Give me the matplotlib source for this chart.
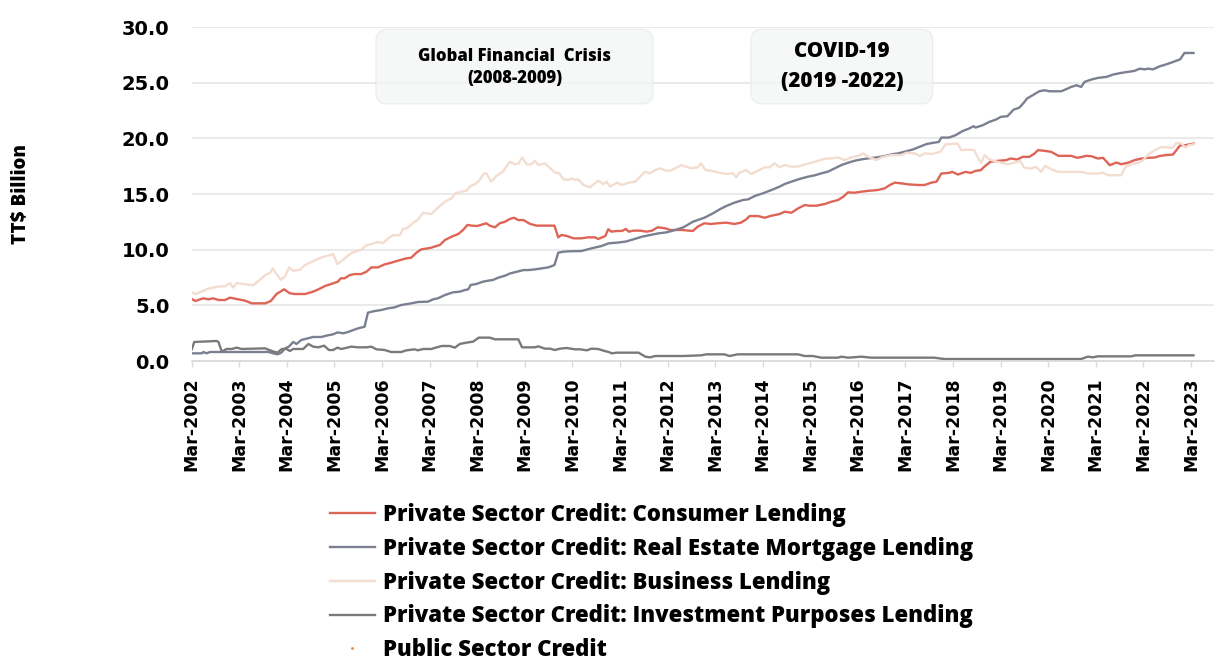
import matplotlib
matplotlib.use("Agg")
import matplotlib.pyplot as plt
from matplotlib.lines import Line2D
from matplotlib.patches import FancyBboxPatch

# credit outstanding, TT$ billion; dates as decimal years (Mar-2002 = 2002.17)
consumer_t = [2002.17, 2002.24, 2002.41, 2002.52, 2002.62, 2002.73, 2002.87, 2002.97, 2003.15, 2003.29,
              2003.43, 2003.71, 2003.83, 2003.95, 2004.11, 2004.23, 2004.34, 2004.55, 2004.72, 2004.83,
              2004.97, 2005.10, 2005.24, 2005.30, 2005.38, 2005.49, 2005.59, 2005.73, 2005.84, 2005.94,
              2006.08, 2006.22, 2006.36, 2006.50, 2006.68, 2006.78, 2006.89, 2006.99, 2007.13, 2007.20,
              2007.38, 2007.49, 2007.63, 2007.77, 2007.87, 2007.96, 2008.05, 2008.17, 2008.29, 2008.36,
              2008.43, 2008.54, 2008.64, 2008.75, 2008.85, 2008.94, 2009.03, 2009.14, 2009.28, 2009.42,
              2009.59, 2009.79, 2009.87, 2009.94, 2010.05, 2010.19, 2010.36, 2010.50, 2010.64, 2010.71,
              2010.86, 2010.92, 2010.99, 2011.10, 2011.21, 2011.29, 2011.35, 2011.45, 2011.59, 2011.73,
              2011.84, 2011.96, 2012.12, 2012.22, 2012.47, 2012.70, 2012.80, 2012.94, 2013.08, 2013.22,
              2013.40, 2013.57, 2013.71, 2013.82, 2013.89, 2014.07, 2014.21, 2014.35, 2014.52, 2014.63,
              2014.77, 2014.91, 2015.05, 2015.15, 2015.29, 2015.47, 2015.61, 2015.75, 2015.86, 2015.96,
              2016.10, 2016.24, 2016.42, 2016.59, 2016.73, 2016.84, 2016.94, 2017.08, 2017.22, 2017.43,
              2017.57, 2017.71, 2017.82, 2017.92, 2018.08, 2018.15, 2018.27, 2018.43, 2018.54, 2018.64,
              2018.75, 2018.82, 2018.95, 2019.10, 2019.28, 2019.38, 2019.52, 2019.63, 2019.77, 2019.88,
              2019.95, 2020.09, 2020.23, 2020.38, 2020.65, 2020.78, 2020.97, 2021.07, 2021.21, 2021.32,
              2021.46, 2021.60, 2021.70, 2021.84, 2021.98, 2022.13, 2022.27, 2022.41, 2022.49, 2022.62,
              2022.79, 2022.94, 2023.04, 2023.22]
consumer_v = [5.57, 5.39, 5.63, 5.54, 5.63, 5.48, 5.48, 5.69, 5.54, 5.42,
              5.18, 5.18, 5.39, 6.02, 6.44, 6.08, 6.02, 6.02, 6.23, 6.44,
              6.74, 6.92, 7.13, 7.43, 7.43, 7.72, 7.81, 7.81, 8.02, 8.41,
              8.41, 8.68, 8.83, 9.01, 9.22, 9.28, 9.73, 10.03, 10.12, 10.18,
              10.42, 10.87, 11.17, 11.41, 11.77, 12.22, 12.16, 12.13, 12.28, 12.37,
              12.16, 12.01, 12.37, 12.51, 12.75, 12.87, 12.66, 12.66, 12.31, 12.16,
              12.16, 12.16, 11.11, 11.32, 11.23, 11.02, 11.02, 11.11, 11.11, 10.96,
              11.23, 11.83, 11.62, 11.68, 11.68, 11.86, 11.62, 11.71, 11.71, 11.62,
              11.71, 12.01, 11.92, 11.77, 11.77, 11.68, 12.07, 12.37, 12.31, 12.37,
              12.43, 12.31, 12.43, 12.72, 13.02, 13.02, 12.87, 13.05, 13.20, 13.41,
              13.32, 13.71, 14.01, 13.95, 13.95, 14.10, 14.31, 14.46, 14.76, 15.15,
              15.12, 15.21, 15.30, 15.36, 15.51, 15.81, 16.02, 15.96, 15.87, 15.81,
              15.81, 16.02, 16.11, 16.84, 16.90, 16.99, 16.75, 16.99, 16.90, 17.08,
              17.14, 17.44, 17.89, 17.98, 18.04, 18.19, 18.10, 18.34, 18.34, 18.64,
              18.94, 18.88, 18.79, 18.43, 18.43, 18.25, 18.43, 18.40, 18.19, 18.25,
              17.59, 17.83, 17.68, 17.80, 18.04, 18.19, 18.25, 18.28, 18.40, 18.49,
              18.55, 19.38, 19.38, 19.53]

mortgage_t = [2002.17, 2002.38, 2002.41, 2002.48, 2002.55, 2003.78, 2003.88, 2003.97, 2004.05, 2004.13,
              2004.21, 2004.30, 2004.37, 2004.47, 2004.58, 2004.72, 2004.89, 2005.03, 2005.14, 2005.23,
              2005.35, 2005.45, 2005.56, 2005.66, 2005.80, 2005.87, 2006.01, 2006.15, 2006.29, 2006.43,
              2006.57, 2006.78, 2006.92, 2007.13, 2007.24, 2007.34, 2007.49, 2007.66, 2007.80, 2007.91,
              2007.98, 2008.03, 2008.15, 2008.29, 2008.40, 2008.50, 2008.61, 2008.75, 2008.86, 2009.00,
              2009.14, 2009.24, 2009.38, 2009.52, 2009.66, 2009.79, 2009.87, 2009.98, 2010.08, 2010.36,
              2010.57, 2010.78, 2010.93, 2011.10, 2011.28, 2011.45, 2011.63, 2011.77, 2011.98, 2012.15,
              2012.33, 2012.50, 2012.70, 2012.94, 2013.12, 2013.26, 2013.40, 2013.57, 2013.75, 2013.86,
              2014.00, 2014.17, 2014.35, 2014.52, 2014.63, 2014.77, 2014.94, 2015.12, 2015.26, 2015.40,
              2015.54, 2015.68, 2015.82, 2015.96, 2016.10, 2016.24, 2016.38, 2016.56, 2016.73, 2016.87,
              2017.01, 2017.15, 2017.33, 2017.47, 2017.61, 2017.75, 2017.87, 2017.92, 2018.08, 2018.22,
              2018.36, 2018.50, 2018.60, 2018.64, 2018.79, 2018.93, 2019.07, 2019.17, 2019.31, 2019.44,
              2019.56, 2019.65, 2019.72, 2019.84, 2019.98, 2020.09, 2020.19, 2020.44, 2020.54, 2020.65,
              2020.76, 2020.86, 2020.93, 2021.07, 2021.21, 2021.39, 2021.53, 2021.70, 2021.84, 2021.98,
              2022.09, 2022.20, 2022.27, 2022.37, 2022.51, 2022.65, 2022.79, 2022.94, 2023.03, 2023.22]
mortgage_v = [0.69, 0.69, 0.81, 0.69, 0.81, 0.81, 0.69, 0.60, 0.75, 1.14,
              1.29, 1.71, 1.53, 1.89, 2.01, 2.16, 2.16, 2.31, 2.40, 2.57,
              2.49, 2.60, 2.78, 2.93, 3.08, 4.34, 4.49, 4.58, 4.73, 4.82,
              5.03, 5.18, 5.30, 5.33, 5.54, 5.63, 5.93, 6.17, 6.23, 6.38,
              6.44, 6.83, 6.92, 7.13, 7.22, 7.28, 7.49, 7.66, 7.87, 8.02,
              8.17, 8.17, 8.23, 8.32, 8.41, 8.62, 9.73, 9.82, 9.85, 9.88,
              10.12, 10.33, 10.57, 10.63, 10.72, 10.93, 11.17, 11.29, 11.47, 11.56,
              11.77, 12.01, 12.51, 12.87, 13.26, 13.62, 13.92, 14.22, 14.46, 14.52,
              14.82, 15.06, 15.36, 15.66, 15.90, 16.11, 16.35, 16.56, 16.68, 16.86,
              17.01, 17.31, 17.60, 17.81, 17.99, 18.11, 18.20, 18.29, 18.41, 18.56,
              18.65, 18.80, 19.01, 19.25, 19.49, 19.60, 19.68, 20.07, 20.07, 20.28,
              20.64, 20.88, 21.09, 20.97, 21.18, 21.48, 21.69, 21.93, 21.99, 22.58,
              22.76, 23.18, 23.57, 23.87, 24.23, 24.32, 24.23, 24.23, 24.41, 24.62,
              24.77, 24.62, 25.07, 25.28, 25.43, 25.52, 25.73, 25.88, 25.97, 26.06,
              26.26, 26.20, 26.26, 26.20, 26.47, 26.65, 26.86, 27.10, 27.67, 27.67]

business_t = [2002.17, 2002.24, 2002.52, 2002.73, 2002.87, 2002.97, 2003.04, 2003.11, 2003.29, 2003.46,
              2003.60, 2003.74, 2003.81, 2003.87, 2003.95, 2004.04, 2004.13, 2004.21, 2004.30, 2004.44,
              2004.54, 2004.68, 2004.89, 2005.14, 2005.23, 2005.35, 2005.52, 2005.73, 2005.84, 2005.94,
              2006.08, 2006.19, 2006.29, 2006.40, 2006.54, 2006.61, 2006.68, 2006.82, 2006.92, 2007.03,
              2007.20, 2007.38, 2007.52, 2007.63, 2007.71, 2007.84, 2007.94, 2008.03, 2008.15, 2008.22,
              2008.31, 2008.36, 2008.46, 2008.57, 2008.71, 2008.85, 2008.96, 2009.04, 2009.11, 2009.21,
              2009.30, 2009.38, 2009.45, 2009.59, 2009.70, 2009.80, 2009.89, 2009.98, 2010.08, 2010.15,
              2010.22, 2010.29, 2010.40, 2010.54, 2010.71, 2010.82, 2010.89, 2010.96, 2011.10, 2011.21,
              2011.35, 2011.49, 2011.59, 2011.70, 2011.80, 2011.91, 2012.01, 2012.12, 2012.22, 2012.33,
              2012.45, 2012.66, 2012.80, 2012.87, 2012.96, 2013.08, 2013.22, 2013.40, 2013.54, 2013.61,
              2013.68, 2013.82, 2013.92, 2014.03, 2014.21, 2014.31, 2014.42, 2014.52, 2014.63, 2014.77,
              2014.91, 2015.08, 2015.22, 2015.33, 2015.47, 2015.61, 2015.75, 2015.89, 2016.03, 2016.17,
              2016.28, 2016.38, 2016.56, 2016.66, 2016.87, 2017.08, 2017.19, 2017.36, 2017.47, 2017.57,
              2017.71, 2017.90, 2018.01, 2018.26, 2018.34, 2018.47, 2018.61, 2018.68, 2018.76, 2018.83,
              2018.93, 2019.10, 2019.31, 2019.45, 2019.58, 2019.66, 2019.80, 2019.91, 2020.02, 2020.10,
              2020.23, 2020.37, 2020.86, 2021.00, 2021.21, 2021.32, 2021.42, 2021.70, 2021.79, 2021.92,
              2022.06, 2022.16, 2022.27, 2022.41, 2022.55, 2022.69, 2022.79, 2022.86, 2022.97, 2023.05,
              2023.12, 2023.22]
business_v = [6.2, 6.0, 6.5, 6.7, 6.7, 7.0, 6.6, 7.0, 6.9, 6.8,
              7.3, 7.8, 7.9, 8.3, 7.8, 7.3, 7.6, 8.4, 8.1, 8.2,
              8.6, 8.9, 9.3, 9.6, 8.7, 9.1, 9.7, 10.0, 10.4, 10.5,
              10.7, 10.6, 11.0, 11.3, 11.3, 11.9, 11.9, 12.4, 12.7, 13.3,
              13.2, 13.92, 14.40, 14.61, 15.06, 15.21, 15.30, 15.72, 15.96, 16.26,
              16.86, 16.86, 16.11, 16.62, 17.01, 17.90, 17.66, 17.75, 18.29, 17.66,
              17.66, 17.99, 17.60, 17.75, 17.31, 16.92, 16.86, 16.32, 16.26, 16.41,
              16.26, 16.32, 15.81, 15.60, 16.20, 15.90, 16.11, 15.66, 16.02, 15.81,
              16.02, 16.11, 16.56, 17.01, 16.86, 17.16, 17.31, 17.10, 17.10, 17.31,
              17.60, 17.31, 17.40, 17.75, 17.16, 17.10, 16.95, 16.80, 16.86, 16.50,
              16.92, 17.16, 16.80, 17.01, 17.40, 17.40, 17.75, 17.40, 17.60, 17.46,
              17.46, 17.69, 17.84, 17.99, 18.17, 18.20, 18.29, 18.05, 18.29, 18.41,
              18.65, 18.35, 18.05, 18.29, 18.50, 18.50, 18.71, 18.65, 18.41, 18.65,
              18.59, 18.79, 19.47, 19.53, 18.94, 19.00, 18.94, 18.34, 17.80, 18.49,
              18.10, 17.89, 17.68, 17.80, 17.98, 17.38, 17.29, 17.44, 16.99, 17.53,
              17.23, 16.99, 16.99, 16.84, 16.84, 16.93, 16.69, 16.69, 17.44, 17.68,
              17.80, 18.04, 18.55, 18.94, 19.23, 19.17, 19.17, 19.59, 19.53, 19.17,
              19.38, 19.47]

investment_t = [2002.17, 2002.22, 2002.69, 2002.73, 2002.80, 2002.90, 2003.01, 2003.11, 2003.22, 2003.71,
                2003.85, 2003.97, 2004.06, 2004.16, 2004.23, 2004.30, 2004.51, 2004.62, 2004.72, 2004.83,
                2004.95, 2005.05, 2005.14, 2005.23, 2005.31, 2005.52, 2005.66, 2005.84, 2005.94, 2006.05,
                2006.22, 2006.36, 2006.57, 2006.68, 2006.85, 2006.92, 2007.03, 2007.20, 2007.42, 2007.59,
                2007.70, 2007.80, 2007.94, 2008.08, 2008.13, 2008.20, 2008.43, 2008.54, 2009.03, 2009.11,
                2009.38, 2009.45, 2009.59, 2009.70, 2009.80, 2009.91, 2010.05, 2010.22, 2010.33, 2010.47,
                2010.57, 2010.71, 2010.82, 2010.93, 2011.00, 2011.10, 2011.56, 2011.70, 2011.80, 2011.91,
                2012.50, 2012.87, 2012.98, 2013.36, 2013.47, 2013.64, 2014.91, 2015.05, 2015.22, 2015.40,
                2015.75, 2015.82, 2015.96, 2016.24, 2016.45, 2017.77, 2017.98, 2020.86, 2021.00, 2021.11,
                2021.21, 2021.92, 2021.99, 2023.22]
investment_v = [1.05, 1.71, 1.80, 1.71, 0.84, 1.08, 1.08, 1.20, 1.08, 1.14,
                0.90, 0.75, 1.08, 1.08, 0.90, 1.08, 1.08, 1.53, 1.29, 1.23,
                1.38, 0.99, 0.99, 1.20, 1.08, 1.29, 1.23, 1.23, 1.29, 1.05,
                0.99, 0.81, 0.81, 0.96, 1.05, 0.96, 1.08, 1.08, 1.35, 1.35,
                1.20, 1.53, 1.65, 1.74, 1.89, 2.10, 2.10, 1.95, 1.95, 1.23,
                1.23, 1.32, 1.11, 1.11, 0.99, 1.11, 1.17, 1.05, 1.05, 0.96,
                1.11, 1.08, 0.93, 0.81, 0.69, 0.75, 0.75, 0.39, 0.33, 0.45,
                0.45, 0.51, 0.60, 0.60, 0.45, 0.60, 0.60, 0.45, 0.45, 0.30,
                0.30, 0.39, 0.30, 0.39, 0.30, 0.30, 0.18, 0.18, 0.39, 0.33,
                0.42, 0.42, 0.51, 0.51]

years = list(range(2002, 2024))
tick_pos = [y + 2 / 12 for y in years]
tick_labels = ["Mar-%d" % y for y in years]

fig = plt.figure(figsize=(12.17, 6.64), dpi=100)
ax = fig.add_axes([0.1575, 0.4563, 0.8400, 0.5030])

ax.plot(consumer_t, consumer_v, color="#de6456", lw=1.7,
        label="Private Sector Credit: Consumer Lending")
ax.plot(mortgage_t, mortgage_v, color="#7b8090", lw=1.7,
        label="Private Sector Credit: Real Estate Mortgage Lending")
ax.plot(business_t, business_v, color="#f3ddd1", lw=1.7,
        label="Private Sector Credit: Business Lending")
ax.plot(investment_t, investment_v, color="#7a7a7a", lw=1.7,
        label="Private Sector Credit: Investment Purposes Lending")
public = Line2D([], [], ls="none", marker=".", ms=2, color="#e8873a",
                label="Public Sector Credit")

ax.set_xlim(2002.167, 2023.65)
ax.set_ylim(0, 30)
ax.set_yticks([0, 5, 10, 15, 20, 25, 30])
ax.set_yticklabels(["%.1f" % v for v in [0, 5, 10, 15, 20, 25, 30]],
                   fontsize=14, fontweight="bold")
ax.set_xticks(tick_pos)
ax.set_xticklabels(tick_labels, rotation=90, fontsize=12.5, fontweight="bold")
ax.tick_params(axis="y", length=0, pad=16)
ax.tick_params(axis="x", length=4, width=1, color="#d9d9d9", pad=8)

ax.grid(axis="y", color="#e6e6e6", lw=1.2)
ax.set_axisbelow(True)
for s in ["left", "top", "right"]:
    ax.spines[s].set_visible(False)
ax.spines["bottom"].set_color("#d9d9d9")
ax.spines["bottom"].set_linewidth(1.2)

ax.set_ylabel("TT\\$ Billion", fontfamily="Open Sans", fontweight=800, fontsize=13.5)
ax.yaxis.set_label_coords(-0.158, 0.5)

# event boxes
for x0, x1, lines in [(2006.04, 2011.86, [("Global Financial  Crisis", 27.31, 12),
                                          ("(2008-2009)", 25.34, 12)]),
                      (2013.92, 2017.74, [("COVID-19", 27.76, 14.8),
                                          ("(2019 -2022)", 25.07, 14.8)])]:
    box = FancyBboxPatch((x0, 23.1), x1 - x0, 6.7,
                         boxstyle="round,pad=0,rounding_size=0.25", mutation_aspect=4.28,
                         facecolor="#f4f6f6", edgecolor="#e8ebeb", lw=1, alpha=0.75, zorder=3)
    ax.add_patch(box)
    for txt, y, fs in lines:
        ax.text((x0 + x1) / 2, y, txt, ha="center", va="center", fontsize=fs,
                fontfamily="Open Sans", fontweight=800, zorder=4)

handles = ax.get_legend_handles_labels()[0] + [public]
fig.legend(handles=handles, loc="upper left", bbox_to_anchor=(0.271, 0.2425),
           frameon=False, borderpad=0, borderaxespad=0, handlelength=2.05,
           handletextpad=0.36, labelspacing=0.443, numpoints=1,
           prop={"family": "Open Sans", "weight": 800, "size": 15.9})

fig.savefig("out.png", dpi=100)
